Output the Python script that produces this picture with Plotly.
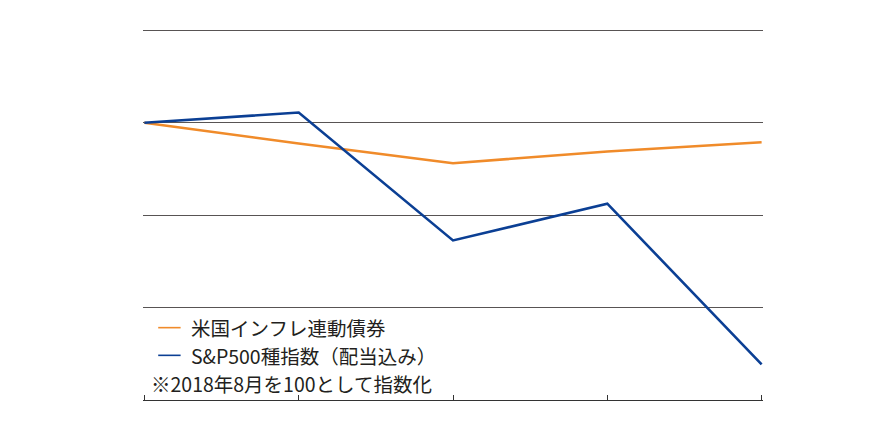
import plotly.graph_objects as go

# 2018年8月=100 で指数化した月次推移
months = ["2018年8月", "2018年9月", "2018年10月", "2018年11月", "2018年12月"]
tips = [100.0, 98.88, 97.81, 98.45, 98.95]      # 米国インフレ連動債券
sp500 = [100.0, 100.56, 93.63, 95.62, 86.92]   # S&P500種指数(配当込み)

names = ["米国インフレ連動債券", "S&P500種指数（配当込み）"]
colors = ["#F08B2A", "#0B3F94"]
note = "※2018年8月を100として指数化"

FONT = "Noto Sans CJK JP"
OFF = 8                     # page body margin
W, H = 876 - OFF, 442 - OFF
# small pad on the ranges so plotly keeps the edge gridline / edge ticks
XPAD, YTOP, YBOT = 0.009, 105.08, 84.99
L, R, T, B = 135.1, 113.1, 20.52, 42.32

fig = go.Figure()
for vals, name, col in zip([tips, sp500], names, colors):
    fig.add_trace(go.Scatter(x=list(range(len(months))), y=vals, mode="lines",
                             name=name, line=dict(color=col, width=2.6)))

fig.update_layout(
    width=W, height=H,
    margin=dict(l=L, r=R, t=T, b=B),
    paper_bgcolor="white", plot_bgcolor="white",
    showlegend=False,
    font=dict(family=FONT, size=19.5, color="#231F20"),
)
fig.update_xaxes(range=[-XPAD, len(months) - 1 + XPAD],
                 tickvals=list(range(len(months))),
                 showticklabels=False, showgrid=False, zeroline=False,
                 showline=True, linecolor="#333", linewidth=1.2,
                 ticks="inside", ticklen=5, tickcolor="#333", tickwidth=1.2)
fig.update_yaxes(range=[YBOT, YTOP], tickvals=[85, 90, 95, 100, 105],
                 showticklabels=False,
                 showgrid=True, gridcolor="#585454", gridwidth=1.2,
                 zeroline=False, showline=False)

# legend drawn by hand: short dash + label, plus note line
pw = W - L - R
ph = H - T - B
def px(x):
    return (x - OFF - L) / pw
def py(y):
    return (H - B - (y - OFF)) / ph

rows = [327.3, 355.0]
for name, col, yy in zip(names, colors, rows):
    fig.add_shape(type="line", xref="paper", yref="paper",
                  x0=px(158.3), x1=px(180.7), y0=py(yy), y1=py(yy),
                  line=dict(color=col, width=1.6))
    fig.add_annotation(xref="paper", yref="paper", x=px(189), y=py(yy),
                       xanchor="left", yanchor="middle", text=name,
                       showarrow=False)
fig.add_annotation(xref="paper", yref="paper", x=px(149), y=py(382.7),
                   xanchor="left", yanchor="middle", text=note, showarrow=False)

fig.write_html("out.html")
